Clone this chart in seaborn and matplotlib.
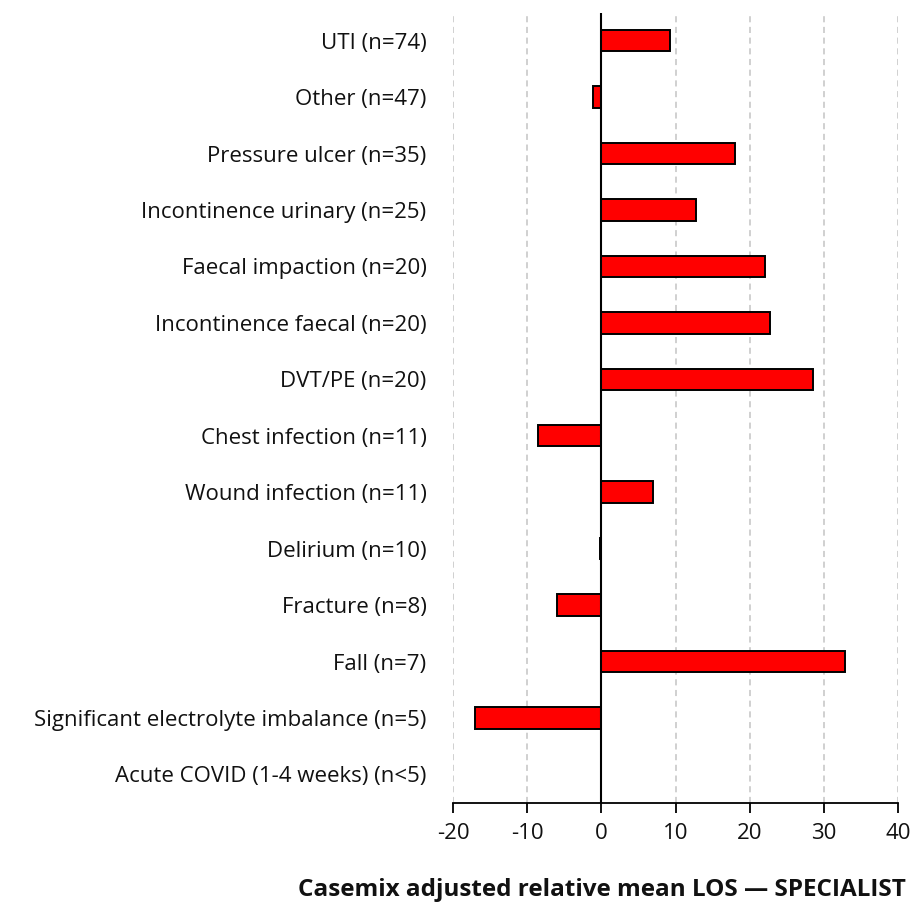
import numpy as np
import pandas as pd
import matplotlib
matplotlib.use("Agg")
import matplotlib.pyplot as plt
import seaborn as sns

categories = [
    "UTI (n=74)",
    "Other (n=47)",
    "Pressure ulcer (n=35)",
    "Incontinence urinary (n=25)",
    "Faecal impaction (n=20)",
    "Incontinence faecal (n=20)",
    "DVT/PE (n=20)",
    "Chest infection (n=11)",
    "Wound infection (n=11)",
    "Delirium (n=10)",
    "Fracture (n=8)",
    "Fall (n=7)",
    "Significant electrolyte imbalance (n=5)",
    "Acute COVID (1-4 weeks) (n<5)",
]
relative_los = [9.2, -1.2, 18.0, 12.7, 22.1, 22.7, 28.5, -8.6, 7.0, -0.2, -6.0, 32.8, -17.0, np.nan]
x_ticks = [-20, -10, 0, 10, 20, 30, 40]

df = pd.DataFrame({"condition": categories, "los": relative_los})

sns.set_theme(style="white")
plt.rcParams["font.family"] = ["Open Sans", "DejaVu Sans"]

fig = plt.figure(figsize=(9.23, 9.07), dpi=100)
ax = fig.add_axes([453 / 923, 1 - 802.6 / 907, (898.3 - 453) / 923, (802.6 - 12.5) / 907])

for t in x_ticks:
    ax.axvline(t, color="#c4c4c4", linestyle=(0, (4, 3)), linewidth=1.1, zorder=0)

sns.barplot(data=df, x="los", y="condition", order=categories, orient="h",
            color="#ff0000", saturation=1, edgecolor="black", linewidth=1.4,
            width=0.38, errorbar=None, ax=ax, zorder=2)

ax.axvline(0, color="black", linewidth=1.5, zorder=3)

ax.set_xlim(-20, 40)
ax.set_ylim(13.5, -0.5)
ax.set_xticks(x_ticks)
ax.set_xticklabels([str(t) for t in x_ticks])
ax.set_xlabel("")
ax.set_ylabel("")

for side in ["top", "right", "left"]:
    ax.spines[side].set_visible(False)
ax.spines["bottom"].set_color("black")
ax.spines["bottom"].set_linewidth(1.3)

ax.tick_params(axis="x", which="major", direction="out", length=7, width=1.3,
               color="black", labelsize=16, labelcolor="#111111", pad=8,
               bottom=True)
ax.tick_params(axis="y", length=0, labelsize=16, labelcolor="#111111", pad=19)

fig.text(602 / 923, 1 - 890 / 907, "Casemix adjusted relative mean LOS \u2014 SPECIALIST",
         ha="center", va="center", fontsize=17.5, fontweight="bold", color="#111111")

fig.savefig("out.png", dpi=100, facecolor="white")
